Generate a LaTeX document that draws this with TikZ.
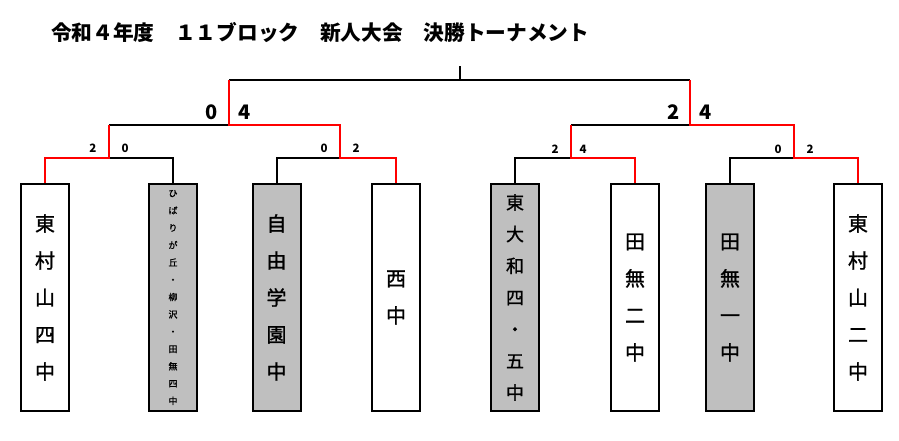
\documentclass[tikz,border=0pt]{standalone}
\usepackage{fontspec}
\setmainfont{Noto Sans CJK JP}
\newfontfamily\boxfont{Noto Sans CJK JP}[FakeBold=1.2]

\begin{document}
\begin{tikzpicture}[x=1pt,y=-1pt,line width=2pt,
                    team node/.style={rectangle,draw,minimum width=48pt,minimum height=227pt,inner sep=0pt,align=center},
                    out node/.style={team node,fill=black!25},
                    big text/.style={font=\boxfont\fontsize{20}{37}\selectfont},
                    win line/.style={red},
                    small score/.style={inner sep=0pt,font=\bfseries\fontsize{11.5}{11.5}\selectfont},
                    big score/.style={inner sep=0pt,font=\bfseries\fontsize{20}{20}\selectfont}]
\useasboundingbox (0,0) rectangle (899,441);

\node[anchor=west,inner sep=0pt,font=\bfseries\fontsize{20.7}{20.7}\selectfont] (title) at (50,33)
  {令和４年度　１１ブロック　新人大会　決勝トーナメント};

% teams
\node[team node,big text] (1) at (45,297.5) {東\\村\\山\\四\\中};
\node[out node,font=\boxfont\fontsize{9}{17.3}\selectfont] (2) at (173,297.5)
  {ひ\\ば\\り\\が\\丘\\・\\柳\\沢\\・\\田\\無\\四\\中};
\node[out node,big text] (3) at (276.5,297.5) {自\\由\\学\\園\\中};
\node[team node,big text] (4) at (396,297.5) {西\\中};
\node[out node,font=\boxfont\fontsize{18}{31.7}\selectfont] (5) at (515,297.5)
  {東\\大\\和\\四\\・\\五\\中};
\node[team node,big text] (6) at (635,297.5) {田\\無\\二\\中};
\node[out node,big text] (7) at (730,297.5) {田\\無\\一\\中};
\node[team node,big text] (8) at (858,297.5) {東\\村\\山\\二\\中};

\coordinate (q1) at (109,158);
\coordinate (q2) at (340,158);
\coordinate (q3) at (571,158);
\coordinate (q4) at (794,158);
\coordinate (s1) at (229,125);
\coordinate (s2) at (690,125);
\coordinate (f) at (460,80);
\coordinate (top) at (460,66);

\draw (2.north) |- (q1)
      (3.north) |- (q2)
      (5.north) |- (q3)
      (7.north) |- (q4);
\draw (q1 |- s1) -- (s1)
      (q3 |- s2) -- (s2);
\draw (s1 |- f) -- (s2 |- f);
\draw (f) -- (top);

\draw[win line] (1.north) |- (q1) -- (q1 |- s1);
\draw[win line] (4.north) |- (q2) |- (s1) -- (s1 |- f);
\draw[win line] (6.north) |- (q3) -- (q3 |- s2);
\draw[win line] (8.north) |- (q4) |- (s2) -- (s2 |- f);

% scores
\node[big score] (f1) at (212,112) {0};
\node[big score] (f2) at (245,112) {4};
\node[big score] (f3) at (674,112) {2};
\node[big score] (f4) at (706,112) {4};
\node[small score] (r1) at (93,148) {2};
\node[small score] (r2) at (125,148) {0};
\node[small score] (r3) at (324,148) {0};
\node[small score] (r4) at (356,148) {2};
\node[small score] (r5) at (555,149) {2};
\node[small score] (r6) at (583,149) {4};
\node[small score] (r7) at (778,149) {0};
\node[small score] (r8) at (810,149) {2};
\end{tikzpicture}
\end{document}
